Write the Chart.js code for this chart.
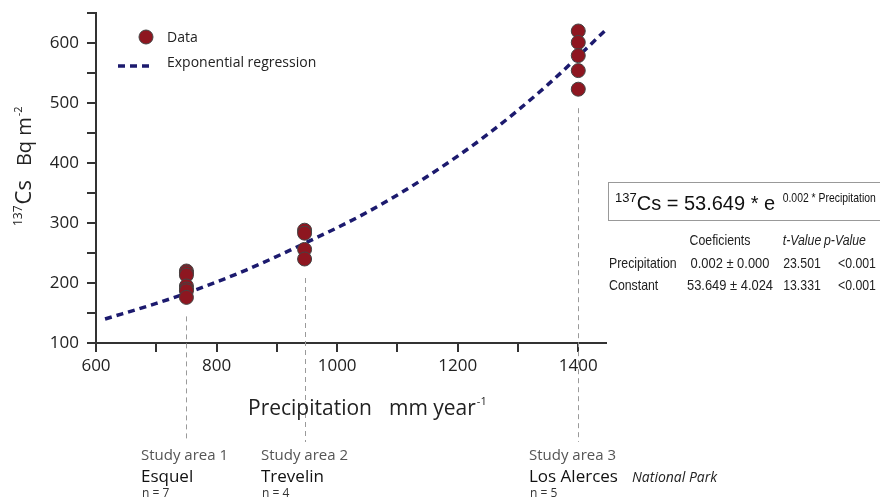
<!DOCTYPE html>
<html>
<head>
<meta charset="utf-8">
<script src="https://cdn.jsdelivr.net/npm/chart.js@4.4.1/dist/chart.umd.min.js"></script>
<style>
  html, body { margin: 0; padding: 0; background: #fff; }
  #wrap { width: 880px; height: 498px; }
</style>
</head>
<body>
<div id="wrap"><canvas id="c" width="880" height="498"></canvas></div>
<script>
// station precipitation (mm/year) and measured 137Cs (Bq m-2)
const esquelX = 750;
const esquelCs = [220, 217, 213, 195, 190, 187, 176];
const trevelinX = 946;
const trevelinCs = [288, 283, 256, 240];
const alercesX = 1400;
const alercesCs = [620, 601, 579, 554, 523];

// regression curve
const regX = [615, 700, 750, 850, 950, 1050, 1150, 1250, 1350, 1446];
const regY = [140, 166, 183, 222, 268, 318, 378, 448, 531, 622];

const studyAreas = ['Study area 1', 'Study area 2', 'Study area 3'];
const siteNames = ['Esquel', 'Trevelin', 'Los Alerces'];
const siteN = ['n = 7', 'n = 4', 'n = 5'];
const siteX = [esquelX, trevelinX, alercesX];
const siteCs = [esquelCs, trevelinCs, alercesCs];

const coefRows = ['Precipitation', 'Constant'];
const coefVals = ['0.002 \u00b1 0.000', '53.649 \u00b1 4.024'];
const tVals = ['23.501', '13.331'];
const pVals = ['<0.001', '<0.001'];

const SANS = '"Open Sans", "Noto Sans", sans-serif';
const ARIAL = '"Liberation Sans", Arial, sans-serif';
const AXIS = '#333';
const RED = '#8e1620';
const NAVY = '#1c1a6e';

const points = [];
siteX.forEach((x, i) => siteCs[i].forEach(v => points.push({ x: x, y: v })));
const curve = regX.map((x, i) => ({ x: x, y: regY[i] }));

function supText(ctx, parts, x, y) {
  // parts: [text, font, dy, extra gap]
  let cx = x;
  parts.forEach(p => {
    ctx.font = p[1];
    ctx.fillText(p[0], cx, y + (p[2] || 0));
    cx += ctx.measureText(p[0]).width + (p[3] || 0);
  });
  return cx;
}

// arial squeezed horizontally, stands in for Arial Narrow
function narrow(ctx, text, x, y, font, align, sx) {
  ctx.save();
  ctx.translate(x, y);
  ctx.scale(sx || 0.82, 1);
  ctx.font = font;
  ctx.textAlign = align || 'left';
  ctx.fillText(text, 0, 0);
  ctx.restore();
}

const extras = {
  id: 'extras',
  beforeDatasetsDraw(chart) {
    const ctx = chart.ctx, xs = chart.scales.x, ys = chart.scales.y;
    ctx.save();
    ctx.strokeStyle = '#9a9a9a';
    ctx.lineWidth = 1;
    ctx.setLineDash([5, 4]);
    siteX.forEach((x, i) => {
      const px = Math.round(xs.getPixelForValue(x)) + 0.5;
      const top = ys.getPixelForValue(Math.min(...siteCs[i])) + 19;
      ctx.beginPath();
      ctx.moveTo(px, top);
      ctx.lineTo(px, 442);
      ctx.stroke();
    });
    ctx.restore();
  },
  afterDraw(chart) {
    const ctx = chart.ctx;
    ctx.save();
    ctx.fillStyle = '#222';
    ctx.textBaseline = 'alphabetic';

    // y title (rotated)
    ctx.save();
    ctx.translate(31, 226);
    ctx.rotate(-Math.PI / 2);
    supText(ctx, [
      ['137', '12px ' + SANS, -9, 1],
      ['Cs', '22px ' + SANS, 0, 14],
      ['Bq m', '20px ' + SANS, 0, 1],
      ['-2', '11px ' + SANS, -9]
    ], 0, 0);
    ctx.restore();

    // x title
    supText(ctx, [
      ['Precipitation', '21px ' + SANS, 0, 17],
      ['mm year', '21px ' + SANS, 0, 1],
      ['-1', '11px ' + SANS, -10]
    ], 248, 415);

    // legend
    ctx.beginPath();
    ctx.arc(146, 37, 7, 0, Math.PI * 2);
    ctx.fillStyle = RED;
    ctx.fill();
    ctx.strokeStyle = '#444';
    ctx.lineWidth = 1;
    ctx.stroke();
    ctx.save();
    ctx.strokeStyle = NAVY;
    ctx.lineWidth = 3.5;
    ctx.setLineDash([7, 5]);
    ctx.beginPath();
    ctx.moveTo(118, 66);
    ctx.lineTo(152, 66);
    ctx.stroke();
    ctx.restore();
    ctx.fillStyle = '#222';
    ctx.font = '14px ' + SANS;
    ctx.fillText('Data', 167, 42);
    ctx.fillText('Exponential regression', 167, 67);

    // study area labels
    const lx = [141, 261, 529];
    lx.forEach((x, i) => {
      ctx.fillStyle = '#555';
      ctx.font = '15px ' + SANS;
      ctx.fillText(studyAreas[i], x, 460);
      ctx.fillStyle = '#111';
      ctx.font = '17px ' + SANS;
      ctx.fillText(siteNames[i], x, 482);
      ctx.fillStyle = '#333';
      ctx.font = '12px ' + SANS;
      ctx.fillText(siteN[i], x + 1, 497);
    });
    ctx.fillStyle = '#222';
    ctx.font = 'italic 14px ' + SANS;
    ctx.fillText('National Park', 632, 482);

    // equation box
    ctx.strokeStyle = '#999';
    ctx.lineWidth = 1;
    ctx.strokeRect(608.5, 182.5, 300, 38);
    ctx.fillStyle = '#111';
    const ex = supText(ctx, [
      ['137', '13px ' + ARIAL, -8],
      ['Cs = 53.649 * e ', '20px ' + ARIAL, 0]
    ], 615, 210);
    narrow(ctx, '0.002 * Precipitation', ex + 2, 202, '13px ' + ARIAL, 'left', 0.8);

    // coefficient table
    ctx.fillStyle = '#222';
    const tf = '15px ' + ARIAL;
    const tfi = 'italic 15px ' + ARIAL;
    narrow(ctx, 'Coeficients', 720, 245, tf, 'center');
    narrow(ctx, 't-Value', 802, 245, tfi, 'center');
    narrow(ctx, 'p-Value', 824, 245, tfi, 'left');
    coefRows.forEach((r, i) => {
      const y = 268 + i * 22;
      narrow(ctx, r, 609, y, tf, 'left');
      narrow(ctx, coefVals[i], 730, y, tf, 'center', 0.86);
      narrow(ctx, tVals[i], 802, y, tf, 'center');
      narrow(ctx, pVals[i], 838, y, tf, 'left');
    });
    ctx.restore();
  }
};

new Chart(document.getElementById('c'), {
  type: 'scatter',
  data: {
    datasets: [
      {
        label: 'Data',
        data: points,
        pointRadius: 7,
        pointHoverRadius: 7,
        backgroundColor: RED,
        borderColor: '#444',
        borderWidth: 1,
        order: 0
      },
      {
        label: 'Exponential regression',
        data: curve,
        showLine: true,
        pointRadius: 0,
        borderColor: NAVY,
        borderWidth: 3.5,
        borderDash: [7, 5],
        cubicInterpolationMode: 'monotone',
        fill: false,
        order: 1
      }
    ]
  },
  options: {
    responsive: false,
    animation: false,
    layout: { padding: { top: 13, right: 274, left: 0, bottom: 0 } },
    plugins: { legend: { display: false }, tooltip: { enabled: false } },
    scales: {
      x: {
        type: 'linear',
        min: 600,
        max: 1446,
        afterFit(s) { s.height = 155; s.paddingLeft = 0; s.paddingRight = 0; },
        border: { display: true, color: AXIS, width: 2 },
        grid: { drawOnChartArea: false, drawTicks: true, tickLength: 9, color: AXIS, lineWidth: 2 },
        ticks: {
          stepSize: 100,
          includeBounds: false,
          maxRotation: 0,
          autoSkip: false,
          padding: 4,
          color: '#222',
          font: { family: SANS, size: 17 },
          callback: v => (v % 200 === 0 ? String(v) : '')
        }
      },
      y: {
        type: 'linear',
        min: 100,
        max: 650,
        afterFit(s) { s.width = 96; s.paddingTop = 0; s.paddingBottom = 0; },
        border: { display: true, color: AXIS, width: 2 },
        grid: { drawOnChartArea: false, drawTicks: true, tickLength: 9, color: AXIS, lineWidth: 2 },
        ticks: {
          stepSize: 50,
          autoSkip: false,
          padding: 8,
          color: '#222',
          font: { family: SANS, size: 17 },
          callback: v => (v % 100 === 0 ? String(v) : '')
        }
      }
    }
  },
  plugins: [extras]
});
</script>
</body>
</html>
